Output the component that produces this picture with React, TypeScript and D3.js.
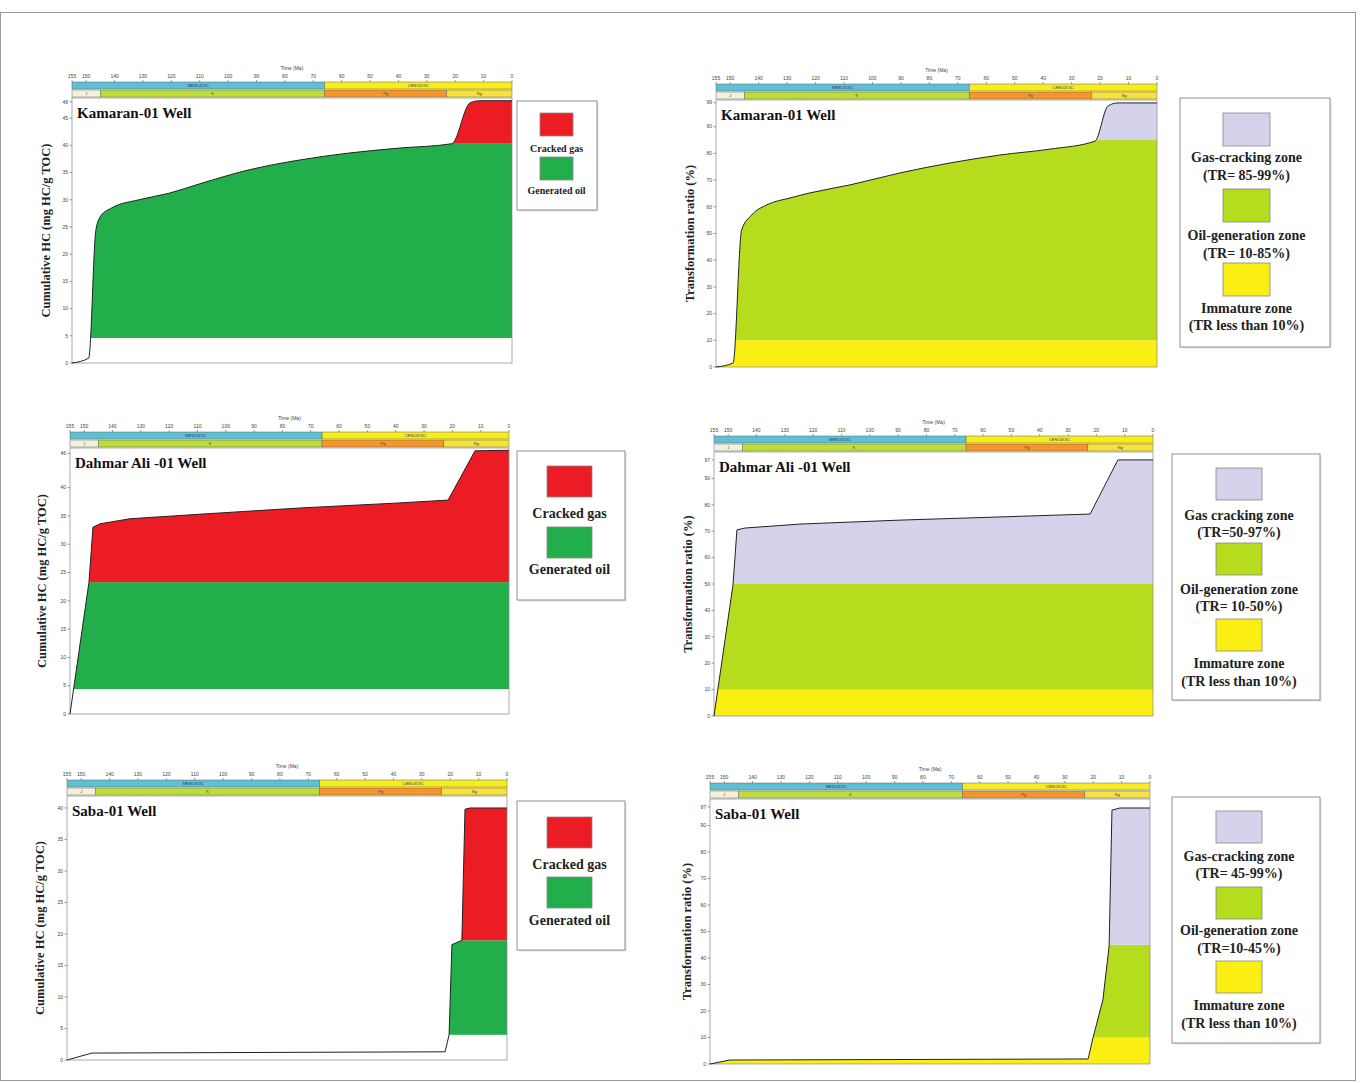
import React from "react";
import * as d3 from "d3";

const SERIF = "'Liberation Serif', 'Times New Roman', serif";
const SANS = "'Liberation Sans', Arial, sans-serif";

// geologic time scale (Ma)
const timeTicks = [155, 150, 140, 130, 120, 110, 100, 90, 80, 70, 60, 50, 40, 30, 20, 10, 0];
const eraNames = ["MESOZOIC", "CENOZOIC"];
const eraStart = [155, 66];
const eraEnd = [66, 0];
const eraColors = ["#5fbfd3", "#f6ec1e"];
const periodNames = ["J", "K", "Pg", "Ng"];
const periodStart = [155, 145, 66, 23];
const periodEnd = [145, 66, 23, 0];
const periodColors = ["#f4f1da", "#bddd3a", "#f5962b", "#f8e23c"];

const wells = ["Kamaran-01 Well", "Dahmar Ali -01 Well", "Saba-01 Well"];

// cumulative HC (mg HC/g TOC) against age (Ma)
const kamaranHcAge = [155, 149.1, 146.6, 144.9, 141, 131.4, 120.8, 110.2, 92.6, 74.9, 57.2, 39.6, 21.2, 14.8, 11.3, 0];
const kamaranHc = [0, 0.9, 24.4, 27.0, 28.5, 30.0, 31.2, 32.9, 35.5, 37.3, 38.6, 39.5, 40.3, 47.8, 48.2, 48.2];
const dahmarHcAge = [155, 148.3, 146.9, 144.4, 133.8, 109.1, 73.8, 38.5, 21.5, 12.0, 0];
const dahmarHc = [0, 23.3, 33.0, 33.6, 34.5, 35.3, 36.4, 37.3, 37.8, 46.5, 46.6];
const sabaHcAge = [155, 146.2, 21.8, 20.4, 19.4, 15.9, 14.8, 13.0, 0];
const sabaHc = [0, 1.1, 1.3, 4.0, 18.3, 19.0, 39.8, 40.0, 40.0];

// transformation ratio (%) against age (Ma)
const kamaranTrAge = [155, 149.0, 146.0, 142.5, 137.2, 129.0, 122.0, 107.9, 90.3, 72.8, 55.2, 37.6, 21.8, 17.2, 13.7, 0];
const kamaranTr = [0, 1.5, 51.3, 56.9, 60.7, 63.3, 65.2, 68.2, 72.7, 76.4, 79.4, 81.6, 84.6, 97.8, 98.9, 98.9];
const dahmarTrAge = [155, 148.3, 146.9, 144.1, 124.6, 89.3, 54.0, 22.2, 12.4, 0];
const dahmarTr = [0, 49.6, 70.5, 71.2, 72.7, 74.2, 75.4, 76.5, 97, 97];
const sabaTrAge = [155, 148.0, 21.8, 20.1, 16.6, 14.4, 13.4, 10.6, 0];
const sabaTr = [0, 1.5, 1.9, 9.8, 24.2, 44.5, 95.8, 96.6, 96.6];

// zone limits
const hcOilStart = [4.6, 4.4, 4.0];
const hcGasStart = [40.3, 23.3, 19.0];
const trOilStart = 10;
const trGasStart = [85, 50, 45];

const hcLegendLabels = ["Cracked gas", "Generated oil"];
const trLegendLines = [
  [["Gas-cracking zone", "(TR= 85-99%)"], ["Oil-generation zone", "(TR= 10-85%)"], ["Immature zone", "(TR less than 10%)"]],
  [["Gas cracking zone", "(TR=50-97%)"], ["Oil-generation zone", "(TR= 10-50%)"], ["Immature zone", "(TR less than 10%)"]],
  [["Gas-cracking zone", "(TR= 45-99%)"], ["Oil-generation zone", "(TR=10-45%)"], ["Immature zone", "(TR less than 10%)"]],
];

const hcTicks = [
  [0, 5, 10, 15, 20, 25, 30, 35, 40, 45, 48],
  [0, 5, 10, 15, 20, 25, 30, 35, 40, 46],
  [0, 5, 10, 15, 20, 25, 30, 35, 40],
];
const trTicks = [
  [0, 10, 20, 30, 40, 50, 60, 70, 80, 90, 99],
  [0, 10, 20, 30, 40, 50, 60, 70, 80, 90, 97],
  [0, 10, 20, 30, 40, 50, 60, 70, 80, 90, 97],
];

const C = {
  gas: "#ec1c24",
  oil: "#22ae4b",
  trGas: "#d5d2ec",
  trOil: "#b5dc1d",
  trImm: "#fbee12",
};

type Zone = { from: number; to: number; color: string };

type PanelProps = {
  id: string;
  title: string;
  age: number[];
  value: number[];
  left: number;
  right: number;
  top: number;
  bottom: number;
  yMax: number;
  yTicks: number[];
  zones: Zone[];
  yLabel: string;
  yLabelX: number;
  smooth?: boolean;
};

const Panel = ({ id, title, age, value, left, right, top, bottom, yMax, yTicks, zones, yLabel, yLabelX, smooth }: PanelProps) => {
  const x = d3.scaleLinear().domain([155, 0]).range([left, right]);
  const y = d3.scaleLinear().domain([0, yMax]).range([bottom, top]);
  const pts = age.map((a, i) => [a, value[i]] as [number, number]);
  const curve = smooth ? d3.curveMonotoneX : d3.curveLinear;

  // area under the curve is used as a clip for the coloured zone bands
  const area = d3
    .area<[number, number]>()
    .x((d) => x(d[0]))
    .y0(y(0))
    .y1((d) => y(d[1]))
    .curve(curve);
  const line = d3
    .line<[number, number]>()
    .x((d) => x(d[0]))
    .y((d) => y(d[1]))
    .curve(curve);

  const row1 = [top - 16, top - 9];
  const row2 = [top - 8, top - 1];

  return (
    <g>
      <defs>
        <clipPath id={`clip-${id}`}>
          <path d={area(pts) || ""} />
        </clipPath>
      </defs>
      <g clipPath={`url(#clip-${id})`}>
        {zones.map((z, i) => (
          <rect
            key={i}
            x={left}
            width={right - left}
            y={y(Math.min(z.to, yMax))}
            height={y(z.from) - y(Math.min(z.to, yMax))}
            fill={z.color}
          />
        ))}
      </g>
      <rect x={left} y={top} width={right - left} height={bottom - top} fill="none" stroke="#888" strokeWidth={0.7} />
      <path d={line(pts) || ""} fill="none" stroke="#222" strokeWidth={1} />

      {/* y axis */}
      {yTicks.map((t) => (
        <g key={t} transform={`translate(${left},${y(t)})`}>
          <line x1={-2.5} x2={0} stroke="#555" strokeWidth={0.6} />
          <text x={-4} dy="0.35em" textAnchor="end" fontSize={5} fontFamily={SANS} fill="#444">
            {t}
          </text>
        </g>
      ))}
      <text
        transform={`translate(${yLabelX},${(top + bottom) / 2}) rotate(-90)`}
        textAnchor="middle"
        dy="0.35em"
        fontSize={12.5}
        fontWeight="bold"
        fontFamily={SERIF}
        fill="#222"
      >
        {yLabel}
      </text>

      {/* time scale bars */}
      {eraNames.map((n, i) => (
        <g key={n}>
          <rect x={x(eraStart[i])} y={row1[0]} width={x(eraEnd[i]) - x(eraStart[i])} height={row1[1] - row1[0]} fill={eraColors[i]} stroke="#666" strokeWidth={0.5} />
          <text x={(x(eraStart[i]) + x(eraEnd[i])) / 2} y={(row1[0] + row1[1]) / 2} dy="0.35em" textAnchor="middle" fontSize={4} fontFamily={SANS} fill="#335">
            {n}
          </text>
        </g>
      ))}
      {periodNames.map((n, i) => (
        <g key={n}>
          <rect x={x(periodStart[i])} y={row2[0]} width={x(periodEnd[i]) - x(periodStart[i])} height={row2[1] - row2[0]} fill={periodColors[i]} stroke="#666" strokeWidth={0.5} />
          <text x={(x(periodStart[i]) + x(periodEnd[i])) / 2} y={(row2[0] + row2[1]) / 2} dy="0.35em" textAnchor="middle" fontSize={4} fontFamily={SANS} fill="#444">
            {n}
          </text>
        </g>
      ))}
      {timeTicks.map((t) => (
        <g key={t} transform={`translate(${x(t)},${row1[0]})`}>
          <line y1={-2} y2={0} stroke="#555" strokeWidth={0.6} />
          <text y={-4} textAnchor="middle" fontSize={5} fontFamily={SANS} fill="#444">
            {t}
          </text>
        </g>
      ))}
      <text x={(left + right) / 2} y={top - 28} textAnchor="middle" fontSize={5} fontFamily={SANS} fill="#444">
        Time (Ma)
      </text>

      <text x={left + 5} y={top + 20} fontSize={15} fontWeight="bold" fontFamily={SERIF} fill="#111">
        {title}
      </text>
    </g>
  );
};

type LegendItem = { color: string; lines: string[] };
type LegendProps = {
  x: number;
  y: number;
  w: number;
  h: number;
  swX: number;
  swW: number;
  swH: number;
  swTops: number[];
  textYs: number[][];
  font: number;
  items: LegendItem[];
};

const Legend = ({ x, y, w, h, swX, swW, swH, swTops, textYs, font, items }: LegendProps) => {
  const cx = swX + swW / 2;
  return (
    <g>
      <rect x={x + 1.5} y={y + 1.5} width={w} height={h} fill="#e4e4e4" />
      <rect x={x} y={y} width={w} height={h} fill="#fff" stroke="#777" strokeWidth={0.8} />
      {items.map((it, i) => (
        <g key={i}>
          <rect x={swX} y={swTops[i]} width={swW} height={swH} fill={it.color} stroke="#888" strokeWidth={0.8} />
          {it.lines.map((l, j) => (
            <text key={j} x={cx} y={textYs[i][j]} dy="0.35em" textAnchor="middle" fontSize={font} fontWeight="bold" fontFamily={SERIF} fill="#222">
              {l}
            </text>
          ))}
        </g>
      ))}
    </g>
  );
};

const hcZones = (i: number): Zone[] => [
  { from: hcOilStart[i], to: hcGasStart[i], color: C.oil },
  { from: hcGasStart[i], to: 1000, color: C.gas },
];
const trZones = (i: number): Zone[] => [
  { from: 0, to: trOilStart, color: C.trImm },
  { from: trOilStart, to: trGasStart[i], color: C.trOil },
  { from: trGasStart[i], to: 1000, color: C.trGas },
];

const hcItems = [
  { color: C.gas, lines: [hcLegendLabels[0]] },
  { color: C.oil, lines: [hcLegendLabels[1]] },
];
const trItems = (i: number) => [
  { color: C.trGas, lines: trLegendLines[i][0] },
  { color: C.trOil, lines: trLegendLines[i][1] },
  { color: C.trImm, lines: trLegendLines[i][2] },
];

const HC_LABEL = "Cumulative HC (mg HC/g TOC)";
const TR_LABEL = "Transformation ratio (%)";

export default function App() {
  return (
    <svg width={1360} height={1083} style={{ position: "absolute", left: 0, top: 0, background: "#fff" }}>
      <rect x={0.5} y={12.5} width={1355} height={1068} fill="#fff" stroke="#999" strokeWidth={1} />

      <Panel id="a" title={wells[0]} age={kamaranHcAge} value={kamaranHc} left={72} right={512} top={98} bottom={363} yMax={48.7} yTicks={hcTicks[0]} zones={hcZones(0)} yLabel={HC_LABEL} yLabelX={46} smooth />
      <Panel id="b" title={wells[0]} age={kamaranTrAge} value={kamaranTr} left={716} right={1157} top={100} bottom={367} yMax={100} yTicks={trTicks[0]} zones={trZones(0)} yLabel={TR_LABEL} yLabelX={690} smooth />
      <Panel id="c" title={wells[1]} age={dahmarHcAge} value={dahmarHc} left={70} right={509} top={448} bottom={714} yMax={47} yTicks={hcTicks[1]} zones={hcZones(1)} yLabel={HC_LABEL} yLabelX={42} />
      <Panel id="d" title={wells[1]} age={dahmarTrAge} value={dahmarTr} left={714} right={1153} top={452} bottom={716} yMax={100} yTicks={trTicks[1]} zones={trZones(1)} yLabel={TR_LABEL} yLabelX={688} />
      <Panel id="e" title={wells[2]} age={sabaHcAge} value={sabaHc} left={67} right={507} top={796} bottom={1060} yMax={41.9} yTicks={hcTicks[2]} zones={hcZones(2)} yLabel={HC_LABEL} yLabelX={40} />
      <Panel id="f" title={wells[2]} age={sabaTrAge} value={sabaTr} left={710} right={1150} top={799} bottom={1064} yMax={100} yTicks={trTicks[2]} zones={trZones(2)} yLabel={TR_LABEL} yLabelX={687} />

      <Legend x={517} y={101} w={80} h={109} swX={540} swW={33} swH={23} swTops={[113, 157]} textYs={[[148], [190]]} font={10} items={hcItems} />
      <Legend x={517} y={451} w={108} h={149} swX={547} swW={45} swH={31} swTops={[466, 527]} textYs={[[513], [569]]} font={14} items={hcItems} />
      <Legend x={517} y={801} w={108} h={149} swX={547} swW={45} swH={31} swTops={[817, 877]} textYs={[[864], [920]]} font={14} items={hcItems} />

      <Legend x={1180} y={98} w={150} h={249} swX={1223} swW={47} swH={33} swTops={[113, 189, 263]} textYs={[[157, 175], [235, 253], [308, 325]]} font={14} items={trItems(0)} />
      <Legend x={1172} y={454} w={148} h={246} swX={1216} swW={46} swH={32} swTops={[468, 543, 619]} textYs={[[515, 532], [589, 606], [663, 681]]} font={14} items={trItems(1)} />
      <Legend x={1172} y={797} w={148} h={246} swX={1216} swW={46} swH={32} swTops={[811, 887, 961]} textYs={[[856, 873], [930, 948], [1005, 1023]]} font={14} items={trItems(2)} />
    </svg>
  );
}
